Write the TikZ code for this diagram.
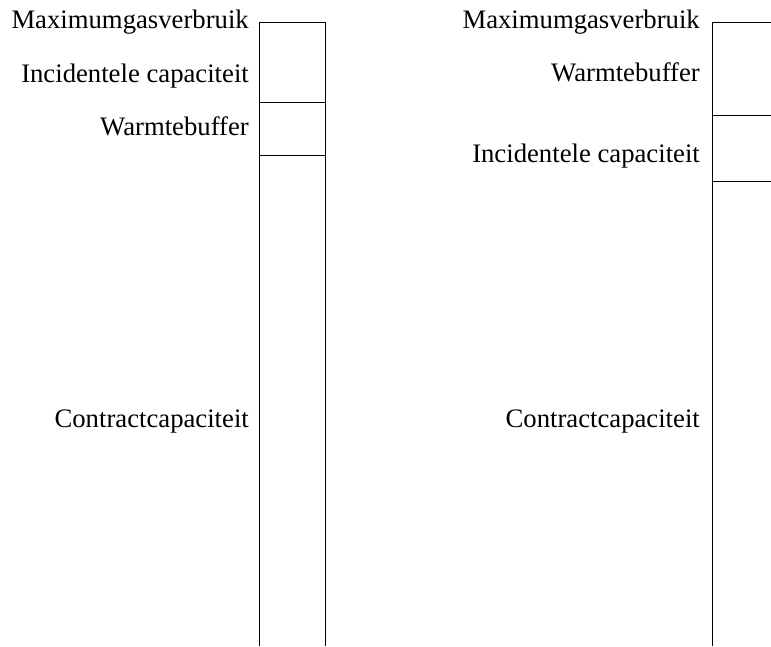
\documentclass[tikz,border=0pt]{standalone}
\usepackage{fontspec}
\setmainfont{Liberation Serif}
\usepackage{tikz}
\usetikzlibrary{positioning}

\tikzset{
  lbl/.style={anchor=base east, inner sep=0pt, font=\fontsize{26.7}{32}\selectfont},
  bar/.style={line width=0.9pt, black}
}

\begin{document}
\begin{tikzpicture}[x=1pt, y=-1pt]
  \useasboundingbox (0,0) rectangle (771,646);

  % left column
  \draw[bar] (259,646) -- (259,22) -- (325,22) -- (325,646);
  \draw[bar] (259,102) -- (325,102);
  \draw[bar] (259,155) -- (325,155);
  \node[lbl] (lmax) at (249,28) {Maximumgasverbruik};
  \node[lbl] (linc) at (249,82) {Incidentele capaciteit};
  \node[lbl] (lwarm) at (249,135) {Warmtebuffer};
  \node[lbl] (lcon) at (249,427) {Contractcapaciteit};

  % right column
  \draw[bar] (712,646) -- (712,22) -- (771,22);
  \draw[bar] (712,115) -- (771,115);
  \draw[bar] (712,181) -- (771,181);
  \node[lbl] (rmax) at (700,28) {Maximumgasverbruik};
  \node[lbl] (rwarm) at (700,81) {Warmtebuffer};
  \node[lbl] (rinc) at (700,162) {Incidentele capaciteit};
  \node[lbl] (rcon) at (700,427) {Contractcapaciteit};
\end{tikzpicture}
\end{document}
